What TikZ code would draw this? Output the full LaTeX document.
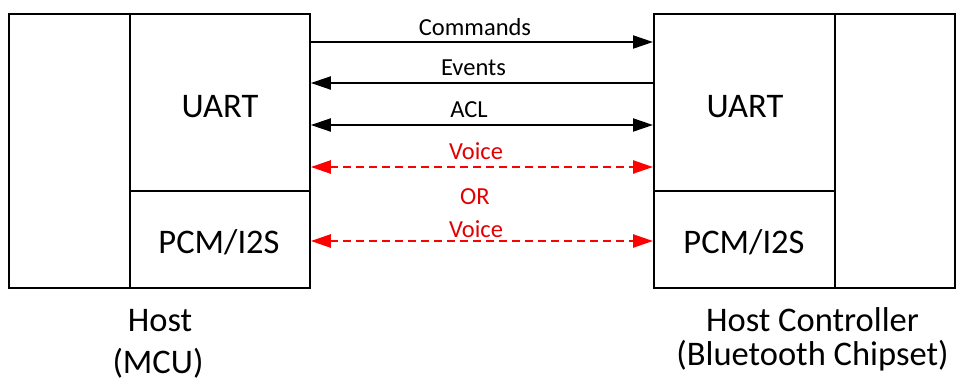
\documentclass[tikz,border=0pt]{standalone}
\usepackage{fontspec}
\setmainfont{Carlito}
\usetikzlibrary{arrows.meta}
\definecolor{vred}{RGB}{255,0,0}
\definecolor{tred}{RGB}{228,0,0}
\begin{document}
\begin{tikzpicture}[x=1pt,y=-1pt,
  box/.style={draw,line width=1.8pt,rectangle,inner sep=0pt,anchor=north west},
  big/.style={font=\fontsize{34.5}{38}\selectfont,anchor=base,inner sep=0pt},
  lbl/.style={font=\fontsize{24.5}{28}\selectfont,anchor=base,inner sep=0pt},
  rlbl/.style={lbl,text=tred},
  sig/.style={line width=2pt,-{Triangle[length=20pt,width=13pt]}},
  both/.style={line width=2pt,{Triangle[length=20pt,width=13pt]}-{Triangle[length=20pt,width=13pt]}},
  voice/.style={line width=2.5pt,draw=vred,dash pattern=on 8pt off 5pt,{Triangle[length=20pt,width=13pt]}-{Triangle[length=20pt,width=13pt]}}]
\useasboundingbox (0,0) rectangle (966,389);
% left (Host)
\node[box,minimum width=121pt,minimum height=274pt] (hostcol) at (8,13) {};
\node[box,minimum width=180pt,minimum height=177pt] (uartL) at (129,13) {};
\node[box,minimum width=180pt,minimum height=97pt] (pcmL) at (129,190) {};
% right (Host Controller)
\node[box,minimum width=181pt,minimum height=177pt] (uartR) at (653,13) {};
\node[box,minimum width=181pt,minimum height=97pt] (pcmR) at (653,190) {};
\node[box,minimum width=120pt,minimum height=274pt] (ctrlcol) at (834,13) {};
% box texts
\node[big] (uartLt) at (220,117) {UART};
\node[big] (pcmLt) at (219,253) {PCM/I2S};
\node[big] (uartRt) at (745,117) {UART};
\node[big] (pcmRt) at (744,253) {PCM/I2S};
% signal rows
\coordinate (r1) at (0,42);
\coordinate (r2) at (0,83);
\coordinate (r3) at (0,125);
\coordinate (r4) at (0,167);
\coordinate (r5) at (0,241);
\draw[sig] (uartL.east |- r1) -- (uartR.west |- r1);
\draw[sig] (uartR.west |- r2) -- (uartL.east |- r2);
\draw[both] (uartL.east |- r3) -- (uartR.west |- r3);
\draw[voice] (uartL.east |- r4) -- (uartR.west |- r4);
\draw[voice] (pcmL.east |- r5) -- (pcmR.west |- r5);
% labels
\node[lbl] (lcmd) at (475,35.5) {Commands};
\node[lbl] (levt) at (473.5,75) {Events};
\node[lbl] (lacl) at (469,117) {ACL};
\node[rlbl] (lv1) at (476,159) {Voice};
\node[rlbl] (lor) at (475,204) {OR};
\node[rlbl] (lv2) at (476,237) {Voice};
% captions
\node[big] (host) at (160,331) {Host};
\node[big] (mcu) at (158,373) {(MCU)};
\node[big] (hc) at (812.5,331) {Host Controller};
\node[big] (bt) at (812.5,365) {(Bluetooth Chipset)};
\end{tikzpicture}
\end{document}
